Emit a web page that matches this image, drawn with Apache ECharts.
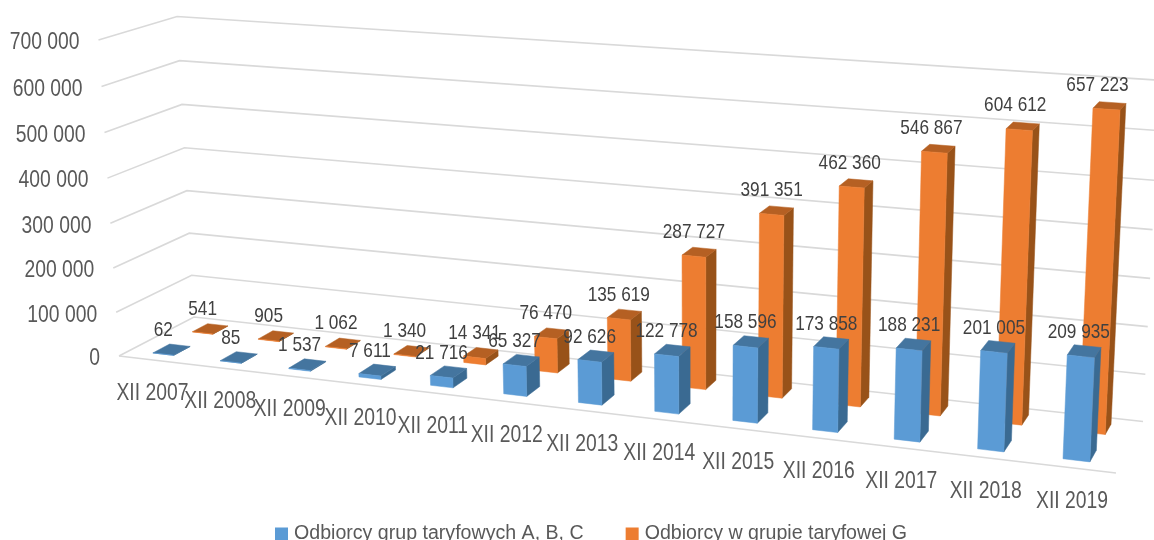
<!DOCTYPE html>
<html><head><meta charset="utf-8">
<style>html,body{margin:0;padding:0;background:#fff}#c{width:1154px;height:540px}</style>
<script src="https://cdn.jsdelivr.net/npm/echarts@6/dist/echarts.min.js"></script>
</head><body><div id="c"></div>
<script>
const categories = ['XII 2007','XII 2008','XII 2009','XII 2010','XII 2011','XII 2012','XII 2013','XII 2014','XII 2015','XII 2016','XII 2017','XII 2018','XII 2019'];
const seriesABC = [62,85,1537,7611,21716,65327,92626,122778,158596,173858,188231,201005,209935];
const seriesG = [541,905,1062,1340,14341,76470,135619,287727,391351,462360,546867,604612,657223];
const valueTicks = [0,100000,200000,300000,400000,500000,600000,700000];
const nameABC = 'Odbiorcy grup taryfowych A, B, C';
const nameG = 'Odbiorcy w grupie taryfowej G';

// Camera: screen position of the chart box's corners and the vertical vanishing point
const O=[119,356,1], X=[1116,473,1], Y=[194,317,1], D=[1143,421.5,1], topLeftY=40, V=[700,9300,1];
function det(m){return m[0][0]*(m[1][1]*m[2][2]-m[1][2]*m[2][1])-m[0][1]*(m[1][0]*m[2][2]-m[1][2]*m[2][0])+m[0][2]*(m[1][0]*m[2][1]-m[1][1]*m[2][0]);}
function solve3(c1,c2,c3,r){const M=(a,b,e)=>[0,1,2].map(i=>[a[i],b[i],e[i]]);const d=det(M(c1,c2,c3));return [det(M(r,c2,c3))/d,det(M(c1,r,c3))/d,det(M(c1,c2,r))/d];}
const [wa,wb]=solve3(X,Y,D.map(v=>-v),O);
const wk=(topLeftY-O[1])/(V[1]-topLeftY);
const A=[0,1,2].map(i=>wa*X[i]-O[i]), B=[0,1,2].map(i=>wb*Y[i]-O[i]), C=V.map(v=>wk*v);
function proj(u,v,w){const h=[0,1,2].map(i=>O[i]+u*A[i]+v*B[i]+w*C[i]);return [h[0]/h[2],h[1]/h[2]];}

const BAR_FRACTION=0.31;
const DEPTH={abc:[0.14,0.36],g:[0.67,0.88]};
const GRID='#d9d9d9', AXIS_TEXT='#595959', LABEL_TEXT='#404040';
const FACE={abc:{front:'#5b9bd5',side:'#3a6a92',top:'#44759f'},g:{front:'#ed7d31',side:'#985219',top:'#b56023'}};
const labelNudge={g:{12:-9,11:-4,10:-3,9:-2}, abc:{12:-2}};

function norm(params,api,cat,val){
  const cs=params.coordSys, p=api.coord([cat,val]);
  return {u:(p[0]-cs.x)/cs.width, w:(cs.y+cs.height-p[1])/cs.height, du:api.size([1,0])[0]/cs.width*BAR_FRACTION/2};
}
const fmt=v=>String(v).replace(/\B(?=(\d{3})+$)/g,' ');
function poly(pts,fill){return {type:'polygon',shape:{points:pts},style:{fill:fill,stroke:fill,lineWidth:0.5}};}
function barRender(key){return function(params,api){
  const n=norm(params,api,api.value(0),api.value(1));
  const [v0,v1]=DEPTH[key], u0=n.u-n.du, u1=n.u+n.du, w=n.w, f=FACE[key];
  return {type:'group',children:[
    poly([proj(u1,v0,0),proj(u1,v1,0),proj(u1,v1,w),proj(u1,v0,w)],f.side),
    poly([proj(u0,v0,w),proj(u1,v0,w),proj(u1,v1,w),proj(u0,v1,w)],f.top),
    poly([proj(u0,v0,0),proj(u1,v0,0),proj(u1,v0,w),proj(u0,v0,w)],f.front)
  ]};
};}
function labelRender(key){return function(params,api){
  const i=api.value(0), n=norm(params,api,i,api.value(1)), p=proj(n.u,DEPTH[key][0],n.w);
  return {type:'text',x:p[0]+((labelNudge[key]||{})[i]||0),y:p[1]-24,scaleX:0.82,
    style:{text:fmt(api.value(1)),fill:LABEL_TEXT,font:'21px "Liberation Sans"',textAlign:'center',textVerticalAlign:'middle'}};
};}
function gridRender(params,api){
  const n=norm(params,api,0,api.value(1)), w=n.w, out=[];
  const pts=[proj(0,0,w),proj(0,1,w),proj(1,1,w)];
  out.push({type:'polyline',shape:{points:pts},style:{fill:'none',stroke:GRID,lineWidth:1.6}});
  if(api.value(1)===0) out.push({type:'line',shape:{x1:proj(0,0,0)[0],y1:proj(0,0,0)[1],x2:proj(1,0,0)[0],y2:proj(1,0,0)[1]},style:{stroke:GRID,lineWidth:1.6}});
  const a=proj(0,0,w);
  out.push({type:'text',x:a[0]-19,y:a[1]+3,scaleX:0.84,style:{text:fmt(api.value(1)),fill:AXIS_TEXT,font:'23px "Liberation Sans"',textAlign:'right',textVerticalAlign:'middle'}});
  return {type:'group',children:out};
}
function catRender(params,api){
  const n=norm(params,api,api.value(0),0), p=proj(n.u,0,0);
  return {type:'text',x:p[0],y:p[1]+34,scaleX:0.84,style:{text:categories[api.value(0)],fill:AXIS_TEXT,font:'23px "Liberation Sans"',textAlign:'center',textVerticalAlign:'middle'}};
}
const pairs=a=>a.map((v,i)=>[i,v]);
const base={type:'custom',coordinateSystem:'cartesian2d',silent:true,animation:false,clip:false};
const chart=echarts.init(document.getElementById('c'),null,{renderer:'canvas'});
chart.setOption({
  animation:false,backgroundColor:'#fff',
  grid:{left:0,right:0,top:0,bottom:0},
  xAxis:{type:'category',data:categories,show:false},
  yAxis:{type:'value',min:0,max:700000,interval:100000,show:false},
  legend:{data:[nameABC,nameG],left:270,top:519,itemWidth:13,itemHeight:13,itemGap:42,icon:'rect',
    textStyle:{color:AXIS_TEXT,fontFamily:'"Liberation Sans"',fontSize:19.6,padding:[0,0,0,1]}},
  series:[
    {...base,name:'grid',z:1,data:valueTicks.map(v=>[0,v]),renderItem:gridRender},
    {...base,name:'categories',z:1,data:categories.map((c,i)=>[i,0]),renderItem:catRender},
    {...base,name:nameG,z:2,itemStyle:{color:FACE.g.front},data:pairs(seriesG),renderItem:barRender('g')},
    {...base,name:nameABC,z:3,itemStyle:{color:FACE.abc.front},data:pairs(seriesABC),renderItem:barRender('abc')},
    {...base,name:'labelsG',z:4,data:pairs(seriesG),renderItem:labelRender('g')},
    {...base,name:'labelsABC',z:4,data:pairs(seriesABC),renderItem:labelRender('abc')}
  ]
});
</script></body></html>
